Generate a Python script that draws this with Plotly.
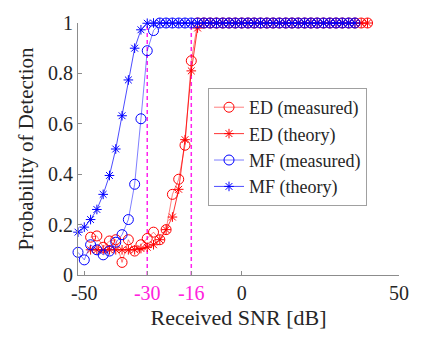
import plotly.graph_objects as go

# ---- data ----
x_ed = list(range(-48, 41, 2))
ed_measured = [0.15, 0.155, 0.11, 0.135, 0.14, 0.05, 0.14, 0.095, 0.12, 0.145,
               0.17, 0.14, 0.18, 0.32, 0.38, 0.515, 0.85] + [1.0] * 28
ed_theory = [0.1, 0.1, 0.1, 0.1, 0.1, 0.1, 0.1, 0.1, 0.105, 0.11,
             0.12, 0.14, 0.18, 0.23, 0.34, 0.537, 0.81, 0.98] + [1.0] * 27

x_mf = list(range(-52, 37, 2))
mf_measured = [0.09, 0.06, 0.12, 0.1, 0.08, 0.095, 0.13, 0.16, 0.22, 0.36,
               0.62, 0.89, 0.97] + [1.0] * 32
mf_theory = [0.17, 0.19, 0.22, 0.26, 0.32, 0.395, 0.5, 0.632, 0.774, 0.9,
             0.973, 0.999] + [1.0] * 33

thresholds = [-30, -16]
x_tickvals = [-50, -30, -16, 0, 50]
x_ticktext = ["-50", "<span style='color:#ff22dd'>-30</span>",
              "<span style='color:#ff22dd'>-16</span>", "0", "50"]
y_tickvals = [0, 0.2, 0.4, 0.6, 0.8, 1]
y_ticktext = ["0", "0.2", "0.4", "0.6", "0.8", "1"]

FONT = "'Liberation Serif', 'Times New Roman', Times, serif"
RED = "rgb(255,0,0)"
BLUE = "rgb(0,0,255)"

fig = go.Figure()

for t in thresholds:
    fig.add_trace(go.Scatter(x=[t, t], y=[0, 1], mode="lines",
                             line=dict(color="#ff22ee", width=1.5, dash="4px,3px"),
                             showlegend=False, hoverinfo="skip"))

fig.add_trace(go.Scatter(x=x_ed, y=ed_measured, mode="lines+markers", name="ED (measured)",
                         line=dict(color="rgba(255,0,0,0.5)", width=1),
                         marker=dict(symbol="circle-open", size=10, color=RED, line=dict(width=1)),
                         cliponaxis=False))
fig.add_trace(go.Scatter(x=x_ed, y=ed_theory, mode="lines+markers", name="ED (theory)",
                         line=dict(color="rgba(255,0,0,0.8)", width=1),
                         marker=dict(symbol="asterisk-open", size=8, color=RED, line=dict(width=1, color=RED)),
                         cliponaxis=False))
fig.add_trace(go.Scatter(x=x_mf, y=mf_measured, mode="lines+markers", name="MF (measured)",
                         line=dict(color="rgba(0,0,255,0.5)", width=1),
                         marker=dict(symbol="circle-open", size=10, color=BLUE, line=dict(width=1)),
                         cliponaxis=False))
fig.add_trace(go.Scatter(x=x_mf, y=mf_theory, mode="lines+markers", name="MF (theory)",
                         line=dict(color="rgba(0,0,255,0.7)", width=1),
                         marker=dict(symbol="asterisk-open", size=8, color=BLUE, line=dict(width=1, color=BLUE)),
                         cliponaxis=False))

axis_common = dict(showline=True, linecolor="#8c8c8c", linewidth=1, mirror=False,
                   showgrid=False, zeroline=False, ticks="inside", ticklen=4,
                   tickcolor="#8c8c8c", tickfont=dict(family=FONT, size=20, color="#262626"))

fig.update_layout(
    width=421, height=338, autosize=False,
    margin=dict(l=78, r=15, t=13, b=63),
    paper_bgcolor="white", plot_bgcolor="white",
    font=dict(family=FONT, color="#262626"),
    xaxis=dict(range=[-52, 50], tickmode="array", tickvals=x_tickvals, ticktext=x_ticktext,
               title=dict(text="Received SNR [dB]", font=dict(family=FONT, size=22, color="#262626"), standoff=6),
               **axis_common),
    yaxis=dict(range=[0, 1], tickmode="array", tickvals=y_tickvals, ticktext=y_ticktext,
               title=dict(text="Probability of Detection", font=dict(family=FONT, size=21, color="#262626"), standoff=8),
               **axis_common),
    legend=dict(x=0.405, y=0.742, xanchor="left", yanchor="top",
                bgcolor="white", bordercolor="#a0a0a0", borderwidth=1,
                font=dict(family=FONT, size=18, color="#262626"),
                tracegroupgap=0, itemwidth=30),
    showlegend=True,
)

fig.write_html("out.html")
